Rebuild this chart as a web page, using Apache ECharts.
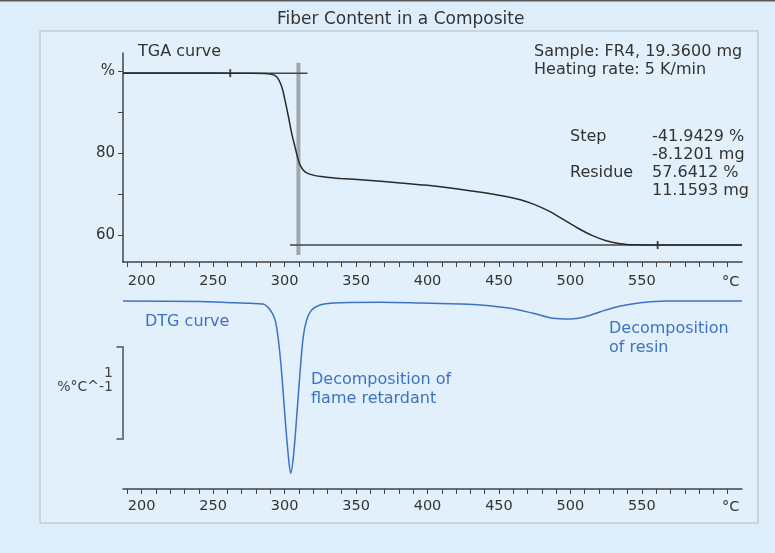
<!DOCTYPE html>
<html>
<head>
<meta charset="utf-8">
<script src="https://cdn.jsdelivr.net/npm/echarts@6/dist/echarts.min.js"></script>
<style>
html,body{margin:0;padding:0;background:#ddeefa;}
#chart{width:775px;height:553px;}
</style>
</head>
<body>
<div id="chart"></div>
<script>
var FONT = 'DejaVu Sans';
var BLUE = '#3d73c5';

// temperature axis, °C
var tempMin = 187, tempMax = 620;
var tempTicks = [190,200,210,220,230,240,250,260,270,280,290,300,310,320,330,340,350,360,370,380,390,400,
  410,420,430,440,450,460,470,480,490,500,510,520,530,540,550,560,570,580,590,600,610];
var tempLabels = [200,250,300,350,400,450,500,550];

// TGA: mass in %
var tgaTicks = [60,70,80,90,100];
var tgaLabels = [60,80,100];
var tgaCurve = [
  [187,99.6],[230,99.6],[270,99.58],[285,99.5],[290,99.4],[294.5,98.7],[298,96.3],[300.3,93.0],
  [302.7,89.0],[305,84.9],[307.3,81.6],[309,79.2],[310.8,77.2],[314.3,75.5],[320,74.7],[329.5,74.2],
  [339,73.9],[358,73.45],[381,72.8],[400,72.2],[420,71.4],[440,70.4],[455,69.5],[465,68.7],[475,67.5],
  [485,65.9],[495,63.9],[505,61.8],[515,60.0],[525,58.7],[535,57.95],[545,57.68],[555,57.64],[620,57.64]
];
// step evaluation
var topLine = [[187,99.58],[316,99.58]];
var stepLine = [[309.7,102.1],[309.7,55.2]];
var residueLine = [[303.8,57.64],[620,57.64]];
var evalLimits = [[262,99.58],[561,57.64]];

// DTG: %/°C
var dtgCurve = [
  [187,0],[240,-0.005],[265,-0.02],[276,-0.025],[285,-0.033],[290,-0.098],[293.4,-0.207],[295.7,-0.424],
  [298,-0.783],[300.3,-1.258],[302.7,-1.692],[304.3,-1.873],[306.2,-1.692],[308.5,-1.258],[310.8,-0.783],
  [313.1,-0.388],[315.5,-0.207],[319,-0.098],[324.8,-0.043],[331.8,-0.025],[338.8,-0.018],[367,-0.014],
  [395,-0.022],[423,-0.033],[437,-0.043],[458,-0.079],[474,-0.134],[488,-0.188],[500,-0.196],[509,-0.177],
  [521,-0.116],[535,-0.054],[549,-0.018],[567,0],[620,0]
];
// scale bar: 1 %/°C  [temperature, top, bottom]
var scaleBar = [[187,-0.5,-1.5]];

function tempAxis(grid, margin) {
  return {
    type: 'value', gridIndex: grid, min: tempMin, max: tempMax, position: 'bottom',
    name: '°C', nameLocation: 'end', nameGap: -20,
    nameTextStyle: { color: '#333', fontFamily: FONT, fontSize: 14.5, align: 'left', verticalAlign: 'top', padding: [margin + 1, 0, 0, 0] },
    axisLine: { show: true, onZero: false, lineStyle: { color: '#444', width: 1.5 } },
    axisTick: { show: true, customValues: tempTicks, length: 5, lineStyle: { color: '#444', width: 1 } },
    axisLabel: { customValues: tempLabels, color: '#333', fontFamily: FONT, fontSize: 14.5, margin: margin },
    splitLine: { show: false }
  };
}

function lineSeries(data, color, width, x) {
  return {
    type: 'line', xAxisIndex: x, yAxisIndex: x, data: data, showSymbol: false, silent: true,
    lineStyle: { color: color, width: width }, clip: false
  };
}

function txt(t, x, y, color, size, align) {
  return {
    type: 'text', x: x, y: y,
    style: { text: t, fill: color || '#333', font: (size || 16) + 'px "' + FONT + '"', textAlign: align || 'left', textVerticalAlign: 'middle' }
  };
}

var chart = echarts.init(document.getElementById('chart'));
chart.setOption({
  animation: false,
  backgroundColor: '#ddeefa',
  title: {
    text: 'Fiber Content in a Composite', left: 272, top: 6,
    textStyle: { color: '#333', fontFamily: FONT, fontSize: 17, fontWeight: 'normal' }
  },
  grid: [
    { left: 123, right: 33, top: 53, height: 209 },
    { left: 123, right: 33, top: 291, height: 198 }
  ],
  xAxis: [tempAxis(0, 12), tempAxis(1, 10)],
  yAxis: [
    {
      type: 'value', gridIndex: 0, min: 53.5, max: 104.5,
      axisLine: { show: true, lineStyle: { color: '#444', width: 1.5 } },
      axisTick: { show: true, customValues: tgaTicks, length: 5, lineStyle: { color: '#444' } },
      axisLabel: {
        customValues: tgaLabels, color: '#333', fontFamily: FONT, fontSize: 15, margin: 8,
        formatter: function (v) { return v === 100 ? '%' : v; }
      },
      splitLine: { show: false }
    },
    { type: 'value', gridIndex: 1, min: -2.0435, max: 0.1087, show: false }
  ],
  graphic: [
    { type: 'rect', z: -1, shape: { x: 40, y: 31, width: 718, height: 492 }, style: { fill: '#e1f0fa', stroke: '#c2ccd2', lineWidth: 1.5 } },
    { type: 'rect', shape: { x: 0, y: 0, width: 775, height: 1.5 }, style: { fill: '#5a5a5a' } },
    txt('TGA curve', 138, 52),
    txt('Sample: FR4, 19.3600 mg', 534, 52),
    txt('Heating rate: 5 K/min', 534, 70),
    txt('Step', 570, 137),
    txt('-41.9429 %', 652, 137),
    txt('-8.1201 mg', 652, 155),
    txt('Residue', 570, 173),
    txt('57.6412 %', 652, 173),
    txt('11.1593 mg', 652, 191),
    txt('DTG curve', 145, 322, BLUE),
    txt('Decomposition of', 311, 380, BLUE),
    txt('flame retardant', 311, 399, BLUE),
    txt('Decomposition', 609, 329, BLUE),
    txt('of resin', 609, 348, BLUE),
    txt('1', 113, 373, '#444', 14, 'right'),
    txt('%°C^-1', 113, 387, '#444', 14, 'right')
  ],
  series: [
    lineSeries(stepLine, 'rgba(80,80,80,0.45)', 4, 0),
    lineSeries(topLine, '#444', 1.5, 0),
    lineSeries(residueLine, '#444', 1.5, 0),
    Object.assign(lineSeries(tgaCurve, '#2a2a2a', 1.5, 0), { smooth: 0.3 }),
    {
      type: 'scatter', xAxisIndex: 0, yAxisIndex: 0, data: evalLimits, silent: true,
      symbol: 'rect', symbolSize: [2, 8], itemStyle: { color: '#222' }
    },
    Object.assign(lineSeries(dtgCurve, BLUE, 1.5, 1), { smooth: 0.3 }),
    {
      type: 'custom', xAxisIndex: 1, yAxisIndex: 1, data: scaleBar, silent: true, clip: false,
      renderItem: function (params, api) {
        var p1 = api.coord([api.value(0), api.value(1)]);
        var p2 = api.coord([api.value(0), api.value(2)]);
        return {
          type: 'polyline',
          shape: { points: [[p1[0] - 6.5, p1[1]], p1, p2, [p2[0] - 6.5, p2[1]]] },
          style: { stroke: '#777', lineWidth: 2, fill: null }
        };
      }
    }
  ]
});
</script>
</body>
</html>
